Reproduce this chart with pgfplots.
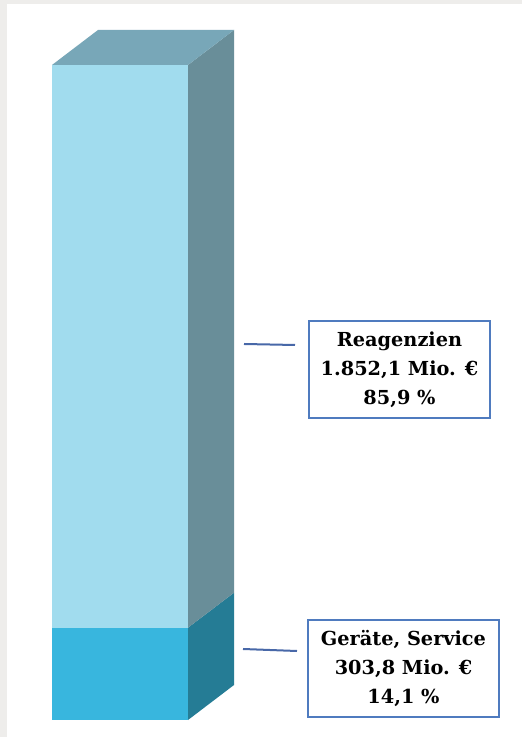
\documentclass[border=0pt]{standalone}
\usepackage{pgfplots}
\pgfplotsset{compat=1.18}
\usepackage{fontspec}
\setmainfont{DejaVu Serif}
\definecolor{bgGray}{HTML}{EEEDEB}
\definecolor{frontTop}{HTML}{A1DCEE}
\definecolor{sideTop}{HTML}{698E99}
\definecolor{topFace}{HTML}{78A7B8}
\definecolor{frontBot}{HTML}{38B6DE}
\definecolor{sideBot}{HTML}{257C95}
\definecolor{boxBlue}{HTML}{4F7BBF}
\definecolor{lineBlue}{HTML}{4868A8}
\begin{document}
\begin{tikzpicture}
% background
\fill[bgGray] (0,0) rectangle (522pt,737pt);
\fill[white] (7pt,0) rectangle (522pt,733pt);
\begin{axis}[
  scale only axis, width=522pt, height=737pt,
  xmin=0, xmax=522, ymin=-55.95, ymax=2369.84,
  axis lines=none, ticks=none, clip=false,
  ybar stacked, bar width=136,
]
% front faces (stacked bar, Mio. EUR)
\addplot[fill=frontBot, draw=none] coordinates {(120,303.8)};
\addplot[fill=frontTop, draw=none] coordinates {(120,1852.1)};
\end{axis}
\begin{axis}[
  scale only axis, width=522pt, height=737pt,
  xmin=0, xmax=522, ymin=-55.95, ymax=2369.84,
  axis lines=none, ticks=none, clip=false,
]
% depth faces (3D effect)
\addplot[fill=sideBot, draw=none] coordinates {(188,0) (234,115.2) (234,419.0) (188,303.8) (188,0)};
\addplot[fill=sideTop, draw=none] coordinates {(188,303.8) (234,419.0) (234,2271.1) (188,2155.9) (188,303.8)};
\addplot[fill=topFace, draw=none] coordinates {(52,2155.9) (188,2155.9) (234,2271.1) (98,2271.1) (52,2155.9)};
% connector lines
\addplot[lineBlue, line width=2pt, no marks] coordinates {(244,1237.6) (295,1234.3)};
\addplot[lineBlue, line width=2pt, no marks] coordinates {(243,233.7) (297,227.1)};
% labels
\node[draw=boxBlue, line width=1.5pt, fill=white, minimum width=181pt, minimum height=97pt, align=center, inner sep=0pt,
  font=\fontsize{19.3}{29}\selectfont\bfseries] at (axis cs:399.5,1153.6) {Reagenzien\\1.852,1 Mio. €\\85,9 \%};
\node[draw=boxBlue, line width=1.5pt, fill=white, minimum width=191pt, minimum height=97pt, align=center, inner sep=0pt,
  font=\fontsize{19.3}{29}\selectfont\bfseries] at (axis cs:403.5,169.5) {Geräte, Service\\303,8 Mio. €\\14,1 \%};
\end{axis}
\end{tikzpicture}
\end{document}
